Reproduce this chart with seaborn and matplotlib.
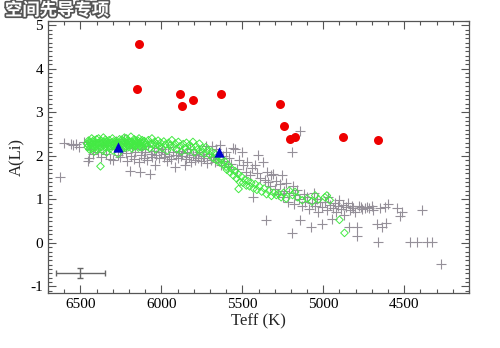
import matplotlib
matplotlib.use("Agg")
import matplotlib.pyplot as plt
import matplotlib.patheffects as pe
from matplotlib.ticker import MultipleLocator
import seaborn as sns
import pandas as pd

# ---------------- data ----------------
gray_teff = [6626, 6599, 6560, 6548, 6530, 6506, 6480, 6455, 6440, 6420, 6410, 6449,
             6390, 6375, 6360, 6340, 6320, 6300, 6290, 6280, 6270, 6255, 6240, 6230, 6220, 6210,
             6196, 6190, 6180, 6170, 6160, 6150, 6140, 6134, 6125, 6118, 6110, 6100, 6090, 6080,
             6072, 6065, 6055, 6048, 6040, 6030, 6020, 6012, 6005,
             5995, 5985, 5975, 5965, 5958, 5950, 5940, 5930, 5918, 5910, 5900, 5890, 5880, 5870,
             5856, 5850, 5840, 5830, 5820, 5814, 5805, 5795, 5785, 5775, 5765, 5755, 5745, 5735,
             5725, 5715, 5705, 5695,
             5690, 5680, 5670, 5660, 5650, 5640, 5630, 5620, 5610, 5600, 5590, 5580, 5570, 5560,
             5546, 5535, 5520, 5504, 5495, 5480, 5470, 5455, 5440, 5432, 5422, 5410, 5401, 5390,
             5370, 5360,
             5354, 5350, 5340, 5330, 5320, 5309, 5300, 5290, 5280, 5270, 5257, 5250, 5240, 5230,
             5220, 5210, 5195, 5195, 5190, 5180, 5172, 5160, 5150, 5143, 5143, 5130, 5120, 5110,
             5100, 5090, 5077, 5070, 5060, 5050, 5040, 5030, 5020, 5009, 5005,
             4990, 4980, 4970, 4960, 4947, 4940, 4930, 4920, 4910, 4900, 4890, 4880, 4870, 4860,
             4850, 4844, 4835, 4825, 4815, 4805, 4792, 4792, 4780, 4770, 4760, 4745, 4730, 4720,
             4700, 4690, 4668, 4664, 4650, 4637, 4620, 4610, 4600,
             4544, 4524, 4515, 4462, 4420, 4389, 4358, 4327, 4276]
gray_ali = [1.52, 2.30, 2.27, 2.25, 2.28, 2.20, 2.32, 1.89, 2.15, 2.05, 2.35, 1.95,
            2.10, 1.98, 2.25, 2.05, 1.92, 1.91, 2.15, 2.35, 2.02, 1.97, 2.12, 2.38, 2.06, 1.88,
            1.65, 2.00, 2.18, 1.93, 2.08, 2.28, 1.85, 1.63, 2.03, 2.15, 1.96, 2.10, 1.90, 2.22,
            1.59, 2.05, 1.98, 2.12, 1.80, 2.02, 2.18, 1.94, 2.08,
            2.15, 1.97, 2.05, 1.88, 2.20, 2.00, 1.92, 2.10, 1.74, 2.03, 1.95, 2.12, 1.99, 2.06,
            1.79, 1.93, 2.08, 1.98, 2.15, 1.86, 2.02, 1.90, 2.05, 1.96, 2.10, 1.88, 2.00, 1.94,
            2.22, 1.84, 2.05, 1.90,
            2.22, 1.98, 1.85, 2.15, 1.92, 2.25, 1.80, 2.00, 1.88, 2.10, 1.75, 1.95, 1.82, 2.18,
            2.16, 1.70, 1.90, 2.08, 1.78, 1.62, 1.85, 1.55, 1.72, 1.05, 1.78, 1.60, 2.01, 1.50,
            1.86, 1.45,
            0.53, 1.63, 1.40, 1.30, 1.55, 1.59, 1.25, 1.42, 1.12, 1.35, 1.55, 1.05, 1.20, 1.38,
            0.95, 1.15, 2.08, 0.23, 1.30, 0.90, 1.10, 1.22, 1.00, 2.58, 0.53, 0.85, 1.12, 0.95,
            1.05, 0.78, 0.36, 0.92, 1.15, 0.85, 1.00, 0.70, 0.95, 0.44, 0.82,
            0.95, 0.75, 1.05, 0.88, 0.55, 0.80, 0.92, 0.70, 0.85, 0.98, 0.78, 0.88, 0.65, 0.82,
            0.92, 0.36, 0.75, 0.85, 0.80, 0.70, 0.36, 0.17, 0.85, 0.82, 0.78, 0.80, 0.82, 0.80,
            0.85, 0.75, 0.44, 0.02, 0.80, 0.36, 0.82, 0.46, 0.90,
            0.80, 0.63, 0.70, 0.02, 0.02, 0.75, 0.02, 0.02, -0.48]

green_teff = [6460, 6455, 6450, 6445, 6440, 6435, 6430, 6425, 6420, 6415, 6410, 6405, 6400, 6395,
              6390, 6385, 6380, 6376, 6372, 6368, 6362, 6358, 6352, 6348, 6342, 6338, 6332, 6328,
              6322, 6318, 6312, 6308, 6302, 6298, 6292, 6288, 6282, 6278, 6272, 6268, 6262, 6258,
              6252, 6248, 6242, 6238, 6232, 6228, 6222, 6218, 6212, 6208, 6202, 6198, 6192, 6188,
              6182, 6178, 6172, 6168, 6162, 6158, 6152, 6148, 6142, 6138, 6132, 6128, 6122, 6118,
              6112, 6108, 6102,
              6448, 6432, 6418, 6402, 6388, 6370, 6355, 6336, 6315, 6296, 6285, 6265, 6245, 6226,
              6205, 6185, 6165, 6145, 6125, 6105, 6442, 6412, 6382, 6345, 6325, 6275, 6235, 6215,
              6195, 6175, 6155, 6135,
              6095, 6088, 6080, 6072, 6065, 6058, 6050, 6042, 6035, 6028, 6020, 6012, 6005, 5995,
              5985, 5975, 5965, 5955, 5945, 5935, 5925, 5915, 5905, 5895, 5885, 5875, 5865, 5855,
              5845, 5835, 5825, 5815, 5805, 5795, 5785, 5775, 5765, 5755, 5745, 5735, 5725, 5715,
              5700, 5690, 5680, 5670, 5660, 5650, 5640, 5630, 5620, 5610, 5600, 5595, 5585, 5575,
              5565, 5555, 5545, 5535, 5525, 5523, 5515, 5505, 5495, 5485, 5475, 5465, 5455, 5445,
              5430, 5420, 5410, 5395, 5380, 5365, 5350, 5335, 5320, 5305, 5290, 5277, 5260, 5245,
              5229, 5210, 5190, 5174, 5160, 5130, 5100, 5070, 5050, 5030, 4990, 4978, 4960, 4900,
              4869]
green_ali = [2.28, 2.20, 2.35, 2.15, 2.30, 2.25, 2.40, 2.18, 2.32, 2.10, 2.27, 2.22, 2.38, 2.14,
             2.30, 2.24, 2.19, 1.76, 2.35, 2.28, 2.12, 2.42, 2.26, 2.20, 2.33, 2.08, 2.29, 2.23,
             2.36, 2.16, 2.30, 2.25, 2.40, 2.12, 2.28, 2.21, 2.34, 2.18, 2.26, 2.05, 2.31, 2.38,
             2.22, 2.15, 2.29, 2.35, 2.24, 2.42, 2.19, 2.30, 2.27, 2.36, 2.20, 2.33, 2.25, 2.44,
             2.17, 2.31, 2.28, 2.38, 2.22, 2.35, 2.26, 2.30, 2.19, 2.40, 2.24, 2.32, 2.28, 2.36,
             2.21, 2.30, 2.25,
             2.24, 2.16, 2.36, 2.28, 2.40, 2.20, 2.32, 2.27, 2.22, 2.33, 2.27, 2.22, 2.37, 2.30,
             2.24, 2.32, 2.25, 2.35, 2.20, 2.34, 2.33, 2.19, 2.29, 2.37, 2.30, 2.30, 2.18, 2.40,
             2.29, 2.22, 2.30, 2.28,
             2.30, 2.22, 2.36, 2.18, 2.28, 2.40, 2.25, 2.32, 2.15, 2.27, 2.35, 2.22, 2.30, 2.18,
             2.33, 2.26, 2.12, 2.30, 2.24, 2.36, 2.20, 2.28, 2.15, 2.32, 2.22, 2.10, 2.27, 2.18,
             2.30, 2.12, 2.25, 2.20, 2.32, 2.08, 2.22, 2.15, 2.28, 2.10, 2.18, 2.05, 2.20, 2.12,
             2.02, 2.10, 1.95, 2.05, 1.90, 2.00, 1.85, 1.92, 1.80, 1.88, 1.75, 1.68, 1.78, 1.62,
             1.70, 1.55, 1.65, 1.48, 1.58, 1.24, 1.40, 1.52, 1.38, 1.45, 1.32, 1.42, 1.30, 1.38,
             1.25, 1.35, 1.22, 1.30, 1.18, 1.25, 1.12, 1.20, 1.08, 1.15, 1.10, 1.13, 1.05, 1.15,
             1.02, 1.20, 1.10, 1.17, 1.05, 0.98, 1.02, 0.95, 1.09, 1.00, 1.05, 1.09, 0.98, 0.53,
             0.23]

red_teff = [6140, 6151, 5882, 5870, 5806, 5634, 5267, 5240, 5205, 5172, 4877, 4664]
red_ali = [4.57, 3.54, 3.41, 3.14, 3.28, 3.41, 3.19, 2.69, 2.39, 2.43, 2.43, 2.36]

blue_teff = [6265, 5645]
blue_ali = [2.21, 2.08]

err_teff, err_ali = 6500, -0.69
err_dteff, err_dali = 150, 0.12

xticks = [6500, 6000, 5500, 5000, 4500]
yticks = [-1, 0, 1, 2, 3, 4, 5]

# ---------------- plot ----------------
sns.set_style("ticks")
plt.rcParams["font.family"] = ["Liberation Serif", "DejaVu Serif"]

fig = plt.figure(figsize=(5.0, 3.48), dpi=100)
ax = fig.add_axes([0.096, 0.158, 0.842, 0.782])

gray_df = pd.DataFrame({"Teff": gray_teff, "ALi": gray_ali})
green_df = pd.DataFrame({"Teff": green_teff, "ALi": green_ali})
red_df = pd.DataFrame({"Teff": red_teff, "ALi": red_ali})
blue_df = pd.DataFrame({"Teff": blue_teff, "ALi": blue_ali})

sns.scatterplot(data=gray_df, x="Teff", y="ALi", marker="+", s=48, color="#959099",
                linewidth=0.8, ax=ax, zorder=2)
sns.scatterplot(data=green_df, x="Teff", y="ALi", marker="D", s=15, facecolor="none",
                edgecolor="#44ea44", linewidth=0.7, ax=ax, zorder=3)
sns.scatterplot(data=red_df, x="Teff", y="ALi", marker="o", s=42, color="#ee0000",
                edgecolor="#ee0000", linewidth=0, ax=ax, zorder=4)
sns.scatterplot(data=blue_df, x="Teff", y="ALi", marker="^", s=55, color="#0000cc",
                edgecolor="#0000cc", linewidth=0, ax=ax, zorder=5)

ax.errorbar([err_teff], [err_ali], xerr=[err_dteff], yerr=[err_dali], fmt="none",
            ecolor="#666666", elinewidth=1.0, capsize=2.5, capthick=1.0, zorder=6)

ax.set_xlim(6700, 4100)
ax.set_ylim(-1.15, 5.1)
ax.set_xticks(xticks)
ax.set_xticklabels([str(t) for t in xticks])
ax.set_yticks(yticks)
ax.set_yticklabels([str(t) for t in yticks])
ax.xaxis.set_minor_locator(MultipleLocator(100))
ax.yaxis.set_minor_locator(MultipleLocator(0.1))
ax.tick_params(which="both", direction="in", top=True, right=True, color="#555555",
               labelsize=11, labelcolor="black", width=0.8)
ax.tick_params(which="major", length=6)
ax.tick_params(which="minor", length=3)
for sp in ax.spines.values():
    sp.set_color("#555555")
    sp.set_linewidth(0.9)
    sp.set_visible(True)

ax.set_xlabel("Teff (K)", fontsize=12, labelpad=2)
ax.set_ylabel("A(Li)", fontsize=12, labelpad=4)

fig.text(0.01, 0.996, "空间先导专项", ha="left", va="top", fontsize=12.5,
         family=["Noto Sans CJK SC", "DejaVu Sans"], fontweight="bold", color="white",
         path_effects=[pe.withStroke(linewidth=2.5, foreground="#555555")], zorder=10)

fig.savefig("out.png", dpi=100)
